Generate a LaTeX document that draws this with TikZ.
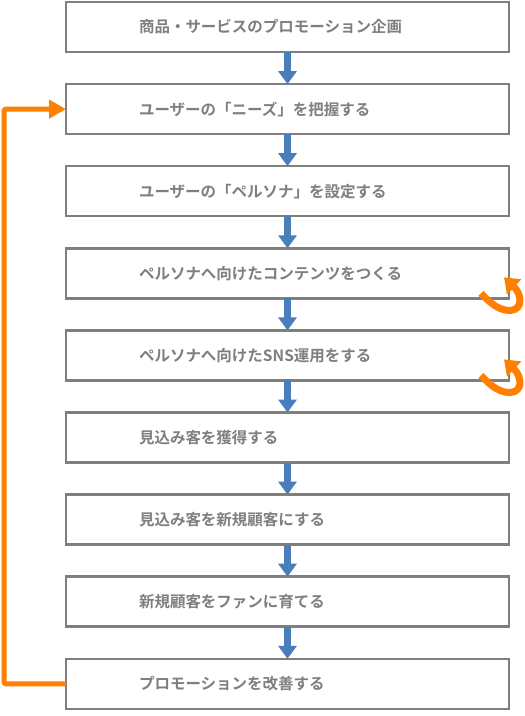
\documentclass[tikz,border=0pt]{standalone}
\usepackage{fontspec}
\setmainfont{Noto Sans CJK JP}[BoldFont={Noto Sans CJK JP Bold}]
\usetikzlibrary{arrows.meta}
\definecolor{boxgray}{HTML}{7F7F7F}
\definecolor{txtgray}{HTML}{7F7F7F}
\definecolor{flowblue}{HTML}{4A7EBB}
\definecolor{loopor}{HTML}{FF8000}
\tikzset{
  stepbox/.style={draw=boxgray, line width=2.5pt, fill=white, rectangle,
    minimum width=443pt, minimum height=50pt, inner xsep=73pt, inner ysep=0pt,
    text width=297pt, align=left, outer sep=0pt, text=txtgray,
    font=\fontsize{15.5pt}{17pt}\selectfont\bfseries},
  flow/.style={draw=flowblue, line width=7pt, -{Triangle[width=18pt,length=13pt]}},
  loopline/.style={draw=loopor, line width=5pt, rounded corners=2pt, -{Triangle[width=18pt,length=17pt]}},
  curl/.style={draw=loopor, line width=7pt, line cap=butt, -{Triangle[width=20pt,length=14pt]}}
}
\begin{document}
\begin{tikzpicture}[x=1pt,y=-1pt]
\useasboundingbox (0,0) rectangle (525,716);
\foreach \i/\t in {1/商品・サービスのプロモーション企画,
                   2/ユーザーの「ニーズ」を把握する,
                   3/ユーザーの「ペルソナ」を設定する,
                   4/ペルソナへ向けたコンテンツをつくる,
                   5/ペルソナへ向けたSNS運用をする,
                   6/見込み客を獲得する,
                   7/見込み客を新規顧客にする,
                   8/新規顧客をファンに育てる,
                   9/プロモーションを改善する}
  \node[stepbox] (b\i) at (287.5, {27+82.1*(\i-1)}) {\t};
\foreach \i [evaluate=\i as \j using int(\i+1)] in {1,...,8}
  \draw[flow] (b\i.south) -- (b\j.north);
\coordinate (lp) at (4,0);
\draw[loopline] (b9.west) -| (lp |- b2.west) -- (b2.west);
\foreach \k in {4,5}
  \draw[curl] ([shift={(-28,-5)}]b\k.south east)
     .. controls ([shift={(-18,6)}]b\k.south east) and ([shift={(-8,13)}]b\k.south east) .. ([shift={(2,12)}]b\k.south east)
     .. controls ([shift={(14,11)}]b\k.south east) and ([shift={(13,-4)}]b\k.south east) .. ([shift={(-5,-21)}]b\k.south east);
\end{tikzpicture}
\end{document}
